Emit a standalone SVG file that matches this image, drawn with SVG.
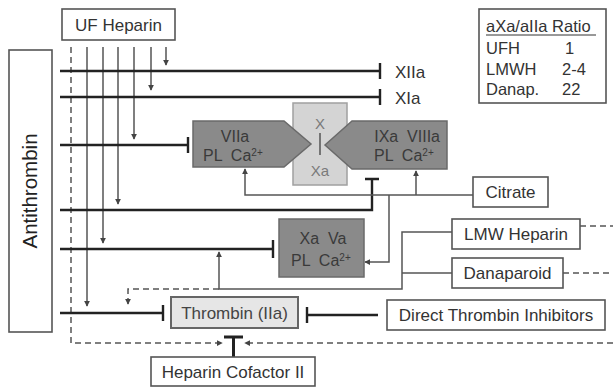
<svg xmlns="http://www.w3.org/2000/svg" width="613" height="387" viewBox="0 0 613 387">
<style>
text{font-family:"Liberation Sans",Arial,sans-serif;fill:#333;white-space:pre}
.box{fill:#fff;stroke:#555;stroke-width:1.6}
.lbl{font-size:17px}
.at{stroke:#222;stroke-width:2.4;fill:none}
.uf{stroke:#555;stroke-width:1.5;fill:none}
.dash{stroke:#555;stroke-width:1.5;fill:none;stroke-dasharray:6,4}
.dark{fill:#8a8a8a;stroke:#6a6a6a;stroke-width:1.5}
.dt{fill:#3a3a3a;font-size:16px}
</style>
<defs>
<marker id="ar" viewBox="0 0 8 8" refX="7" refY="4" markerWidth="6" markerHeight="6" markerUnits="userSpaceOnUse" orient="auto">
<path d="M0,0 L8,4 L0,8 z" fill="#444"/>
</marker>
</defs>
<g id="connectors">
<path class="dash" d="M71,47 V343 H222" marker-end="url(#ar)"/>
<path class="uf" d="M87,47 V306" marker-end="url(#ar)"/>
<path class="uf" d="M103,47 V243" marker-end="url(#ar)"/>
<path class="uf" d="M118,47 V204" marker-end="url(#ar)"/>
<path class="uf" d="M134,47 V139" marker-end="url(#ar)"/>
<path class="uf" d="M151,47 V90" marker-end="url(#ar)"/>
<path class="uf" d="M166,47 V65" marker-end="url(#ar)"/>
<path class="at" d="M60,71 H380 M380,63 V79"/>
<path class="at" d="M60,97 H380 M380,89 V105"/>
<path class="at" d="M60,145 H188 M188,137 V153"/>
<path class="at" d="M60,210 H372 V179 M365,179 H379"/>
<path class="at" d="M60,249 H273 M273,240 V258"/>
<path class="at" d="M60,313 H163 M163,305 V321"/>
<path class="uf" d="M473,195 H245 V169" marker-end="url(#ar)"/>
<path class="uf" d="M416,195 V171" marker-end="url(#ar)"/>
<path class="uf" d="M389,195 V262 H365" marker-end="url(#ar)"/>
<path class="uf" d="M452,232 H402 V289 H219 V252" marker-end="url(#ar)"/>
<path class="uf" d="M452,273 H402"/>
<path class="dash" d="M219,289 H128 V304" marker-end="url(#ar)"/>
<path class="dash" d="M580,226 H613"/>
<path class="dash" d="M563,273 H613"/>
<path class="dash" d="M613,343 H245" marker-end="url(#ar)"/>
<path class="at" d="M378,315 H307 M307,307 V323"/>
<path d="M224,337 H243 M233.5,337 V357" stroke="#222" stroke-width="3" fill="none"/>
</g>
<g id="uf-heparin">
<rect class="box" x="62" y="9" width="113" height="31"/>
<text class="lbl" x="118.5" y="31" text-anchor="middle">UF Heparin</text>
</g>
<g id="antithrombin">
<rect class="box" x="9" y="50" width="43" height="282"/>
<text transform="translate(37,191) rotate(-90)" font-size="20.5" text-anchor="middle" style="fill:#222">Antithrombin</text>
</g>
<g id="xiia">
<text class="lbl" x="395" y="78">XIIa</text>
</g>
<g id="xia">
<text class="lbl" x="395" y="104">XIa</text>
</g>
<g id="ratio-table">
<rect class="box" x="479" y="9" width="127" height="94"/>
<text x="486" y="32" font-size="16.5">aXa/aIIa Ratio</text>
<line x1="486" y1="35" x2="596" y2="35" stroke="#333" stroke-width="1"/>
<text x="486" y="54" font-size="16.5">UFH</text>
<text x="565" y="54" font-size="16.5">1</text>
<text x="486" y="75" font-size="16.5">LMWH</text>
<text x="562" y="75" font-size="16.5">2-4</text>
<text x="486" y="95" font-size="16.5">Danap.</text>
<text x="562" y="95" font-size="16.5">22</text>
</g>
<g id="x-xa">
<rect x="293" y="103" width="54" height="82" fill="#d4d4d4" stroke="#a0a0a0" stroke-width="1.5"/>
<text x="320" y="129" font-size="15" text-anchor="middle" style="fill:#7a7a7a">X</text>
<line x1="320" y1="133" x2="320" y2="155" stroke="#555" stroke-width="1.5"/>
<text x="320" y="176" font-size="15" text-anchor="middle" style="fill:#7a7a7a">Xa</text>
</g>
<g id="viia">
<polygon class="dark" points="193,121 284,121 311,144 284,167 193,167"/>
<text class="dt" x="235" y="142" text-anchor="middle">VIIa</text>
<text class="dt" x="203" y="161">PL  Ca<tspan font-size="10" dy="-5">2+</tspan></text>
</g>
<g id="ixa-viiia">
<polygon class="dark" points="325,145 352,121 447,121 447,169 352,169"/>
<text class="dt" x="440" y="142" text-anchor="end">IXa  VIIIa</text>
<text class="dt" x="374" y="161">PL  Ca<tspan font-size="10" dy="-5">2+</tspan></text>
</g>
<g id="xa-va">
<rect class="dark" x="279" y="219" width="85" height="58"/>
<text class="dt" x="323" y="244" text-anchor="middle">Xa  Va</text>
<text class="dt" x="291" y="266">PL  Ca<tspan font-size="10" dy="-5">2+</tspan></text>
</g>
<g id="citrate">
<rect class="box" x="473" y="177" width="75" height="30"/>
<text class="lbl" x="510.5" y="198" text-anchor="middle">Citrate</text>
</g>
<g id="lmw-heparin">
<rect class="box" x="452" y="219" width="128" height="30"/>
<text class="lbl" x="516" y="240" text-anchor="middle">LMW Heparin</text>
</g>
<g id="danaparoid">
<rect class="box" x="452" y="258" width="111" height="30"/>
<text class="lbl" x="507.5" y="279" text-anchor="middle">Danaparoid</text>
</g>
<g id="thrombin">
<rect x="171" y="297" width="127" height="31" fill="#e6e6e6" stroke="#666" stroke-width="2"/>
<text class="lbl" x="234.5" y="319" text-anchor="middle" style="fill:#444">Thrombin (IIa)</text>
</g>
<g id="dti">
<rect class="box" x="387" y="300" width="218" height="30"/>
<text class="lbl" x="496" y="321" text-anchor="middle">Direct Thrombin Inhibitors</text>
</g>
<g id="heparin-cofactor-ii">
<rect class="box" x="151" y="357" width="164" height="29"/>
<text class="lbl" x="233" y="378" text-anchor="middle">Heparin Cofactor II</text>
</g>
</svg>
